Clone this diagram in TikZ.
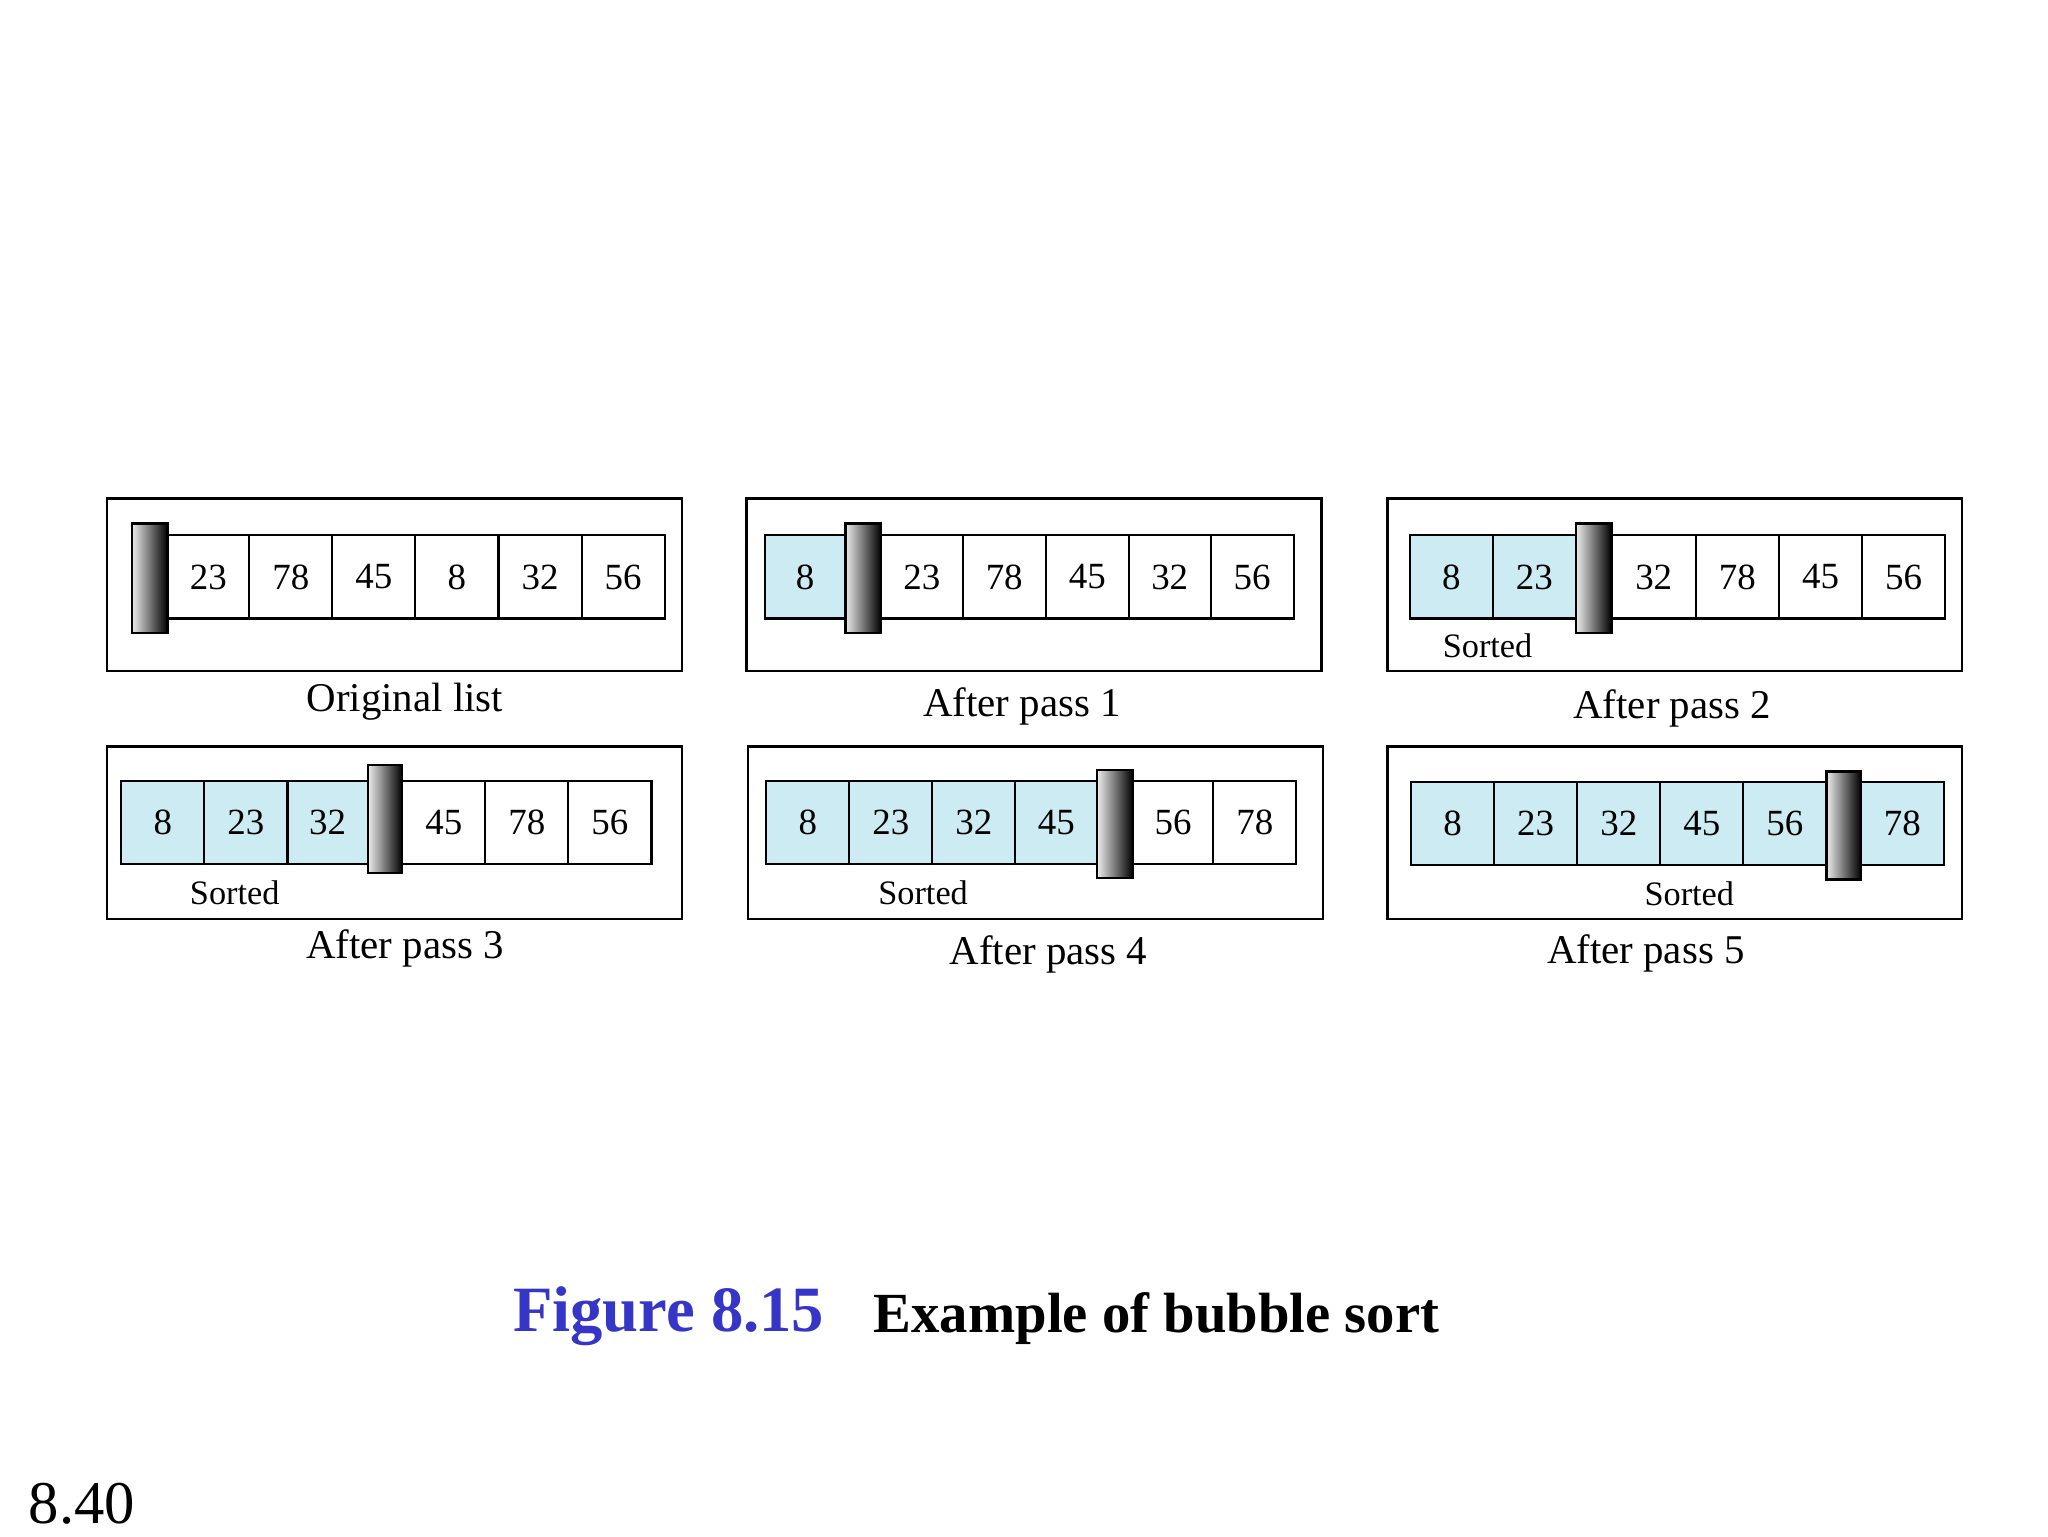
\documentclass[tikz,border=0pt]{standalone}
\usepackage{fontspec}
\setmainfont{Liberation Serif}
\definecolor{cellblue}{HTML}{CCEBF2}
\definecolor{figblue}{HTML}{3535C8}
\newcommand{\cel}[7]{\node[cellbox,fill=#7,minimum width={(#3-#2)*1pt},minimum height={(#5-#4)*1pt}] (#1) at ({(#2+#3)/2},{(#4+#5)/2}) {#6};}
\newcommand{\wal}[5]{\node[wallbox,minimum width={(#3-#2)*1pt},minimum height={(#5-#4)*1pt}] (#1) at ({(#2+#3)/2},{(#4+#5)/2}) {};}
\newcommand{\frm}[5]{\node[framebox,minimum width={(#3-#2)*1pt},minimum height={(#5-#4)*1pt}] (#1) at ({(#2+#3)/2},{(#4+#5)/2}) {};}
\begin{document}
\begin{tikzpicture}[x=1pt,y=-1pt,
  cellbox/.style={draw,line width=1.6pt,inner sep=0pt,font=\fontsize{28}{30}\selectfont},
  wallbox/.style={draw,line width=1.8pt,inner sep=0pt,left color=gray!15,right color=black},
  framebox/.style={draw,line width=1.8pt,inner sep=0pt},
  lbl/.style={font=\fontsize{31}{34}\selectfont,inner sep=0pt},
  srt/.style={font=\fontsize{26}{28}\selectfont,inner sep=0pt}]
\useasboundingbox (0,0) rectangle (1553,1165);
% panel 1
\frm{f1}{81}{517}{378}{509}
\cel{a1}{127}{189}{406}{469}{23}{white}
\cel{a2}{189}{252}{406}{469}{78}{white}
\cel{a3}{252}{315}{406}{469}{45}{white}
\cel{a4}{315}{378}{406}{469}{8}{white}
\cel{a5}{378}{441}{406}{469}{32}{white}
\cel{a6}{441}{504}{406}{469}{56}{white}
\wal{w1}{100}{127}{397}{480}
\node[lbl] (l1) at (307,532) {Original list};
% panel 2
\frm{f2}{566}{1002}{378}{509}
\cel{b1}{580}{641}{406}{469}{8}{cellblue}
\cel{b2}{668}{730}{406}{469}{23}{white}
\cel{b3}{730}{793}{406}{469}{78}{white}
\cel{b4}{793}{856}{406}{469}{45}{white}
\cel{b5}{856}{918}{406}{469}{32}{white}
\cel{b6}{918}{981}{406}{469}{56}{white}
\wal{w2}{641}{668}{397}{480}
\node[lbl] (l2) at (775,536) {After pass 1};
% panel 3
\frm{f3}{1052}{1488}{378}{509}
\cel{c1}{1069}{1132}{406}{469}{8}{cellblue}
\cel{c2}{1132}{1195}{406}{469}{23}{cellblue}
\cel{c3}{1222}{1286}{406}{469}{32}{white}
\cel{c4}{1286}{1349}{406}{469}{78}{white}
\cel{c5}{1349}{1412}{406}{469}{45}{white}
\cel{c6}{1412}{1475}{406}{469}{56}{white}
\wal{w3}{1195}{1222}{397}{480}
\node[srt] (s3) at (1128,490) {Sorted};
\node[lbl] (l3) at (1268,537) {After pass 2};
% panel 4
\frm{f4}{81}{517}{566}{697}
\cel{d1}{92}{155}{592}{655}{8}{cellblue}
\cel{d2}{155}{218}{592}{655}{23}{cellblue}
\cel{d3}{218}{279}{592}{655}{32}{cellblue}
\cel{d4}{305}{368}{592}{655}{45}{white}
\cel{d5}{368}{431}{592}{655}{78}{white}
\cel{d6}{431}{494}{592}{655}{56}{white}
\wal{w4}{279}{305}{580}{662}
\node[srt] (s4) at (178,677) {Sorted};
\node[lbl] (l4) at (307,719) {After pass 3};
% panel 5
\frm{f5}{567}{1003}{566}{697}
\cel{e1}{581}{644}{592}{655}{8}{cellblue}
\cel{e2}{644}{707}{592}{655}{23}{cellblue}
\cel{e3}{707}{770}{592}{655}{32}{cellblue}
\cel{e4}{770}{832}{592}{655}{45}{cellblue}
\cel{e5}{859}{920}{592}{655}{56}{white}
\cel{e6}{920}{983}{592}{655}{78}{white}
\wal{w5}{832}{859}{584}{666}
\node[srt] (s5) at (700,677) {Sorted};
\node[lbl] (l5) at (795,724) {After pass 4};
% panel 6
\frm{f6}{1052}{1488}{566}{697}
\cel{g1}{1070}{1133}{593}{656}{8}{cellblue}
\cel{g2}{1133}{1196}{593}{656}{23}{cellblue}
\cel{g3}{1196}{1259}{593}{656}{32}{cellblue}
\cel{g4}{1259}{1322}{593}{656}{45}{cellblue}
\cel{g5}{1322}{1385}{593}{656}{56}{cellblue}
\cel{g6}{1411}{1474}{593}{656}{78}{cellblue}
\wal{w6}{1385}{1411}{585}{667}
\node[srt] (s6) at (1281,678) {Sorted};
\node[lbl] (l6) at (1248,723) {After pass 5};
% caption
\node[font=\fontsize{49}{50}\selectfont\bfseries,text=figblue,inner sep=0pt] (fig) at (507,998) {Figure 8.15};
\node[font=\fontsize{43}{46}\selectfont\bfseries,inner sep=0pt] (cap) at (877,1000) {Example of bubble sort};
\node[font=\fontsize{46}{48}\selectfont,inner sep=0pt] (pg) at (62,1140) {8.40};
\end{tikzpicture}
\end{document}
